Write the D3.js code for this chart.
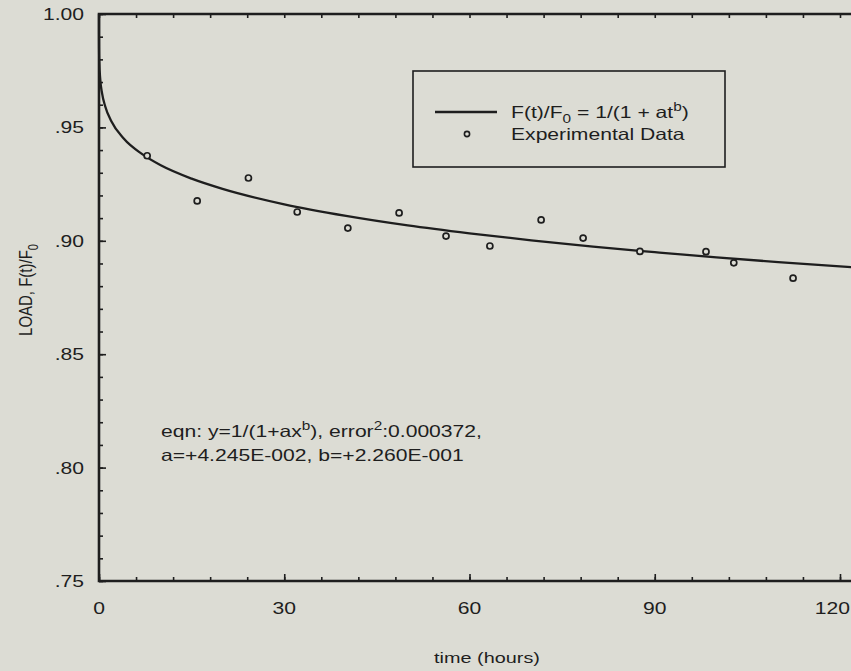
<!DOCTYPE html>
<html>
<head>
<meta charset="utf-8">
<script src="https://cdn.jsdelivr.net/npm/d3@7"></script>
<style>
  body { margin: 0; background: #dcdcd4; }
  svg { display: block; }
  text { font-family: "Liberation Sans", Arial, sans-serif; fill: #1e1e1e; }
</style>
</head>
<body>
<div id="chart"></div>
<script>
var expTime = [7.8, 15.9, 24.2, 32.1, 40.3, 48.6, 56.2, 63.3, 71.6, 78.4, 87.6, 98.3, 102.8, 112.4];
var expLoad = [0.9375, 0.9176, 0.9277, 0.9127, 0.9056, 0.9123, 0.9021, 0.8977, 0.9092, 0.9012, 0.8953, 0.8952, 0.8903, 0.8835];

// fitted curve F(t)/F0, sampled along the drawn line
var fitTime = [0, 0.001, 0.01, 0.05, 0.2, 0.5, 1, 2, 4, 7, 10, 15, 20, 30, 40, 50, 60, 70, 80, 90, 100, 110, 120, 124];
var fitLoad = [1.0, 0.9912, 0.9852, 0.9789, 0.9713, 0.9650, 0.9593, 0.9527, 0.9451, 0.9382, 0.9333, 0.9274, 0.9229, 0.9161, 0.9110, 0.9068, 0.9033, 0.9002, 0.8974, 0.8950, 0.8927, 0.8906, 0.8887, 0.8880];

var xTicks = [0, 30, 60, 90, 120];
var xTickLabels = ["0", "30", "60", "90", "120"];
var yTicks = [0.75, 0.80, 0.85, 0.90, 0.95, 1.00];
var yTickLabels = [".75", ".80", ".85", ".90", ".95", "1.00"];

var width = 851, height = 671;
var margin = {top: 14, left: 99, bottom: 90};
var sx = 1.28; // the scan is stretched sideways
var ink = "#1e1e1e";

var svg = d3.select("#chart").append("svg")
    .attr("width", width)
    .attr("height", height);

var x = d3.scaleLinear().domain([0, 120]).range([margin.left, 840]);
var y = d3.scaleLinear().domain([0.75, 1.0]).range([height - margin.bottom, margin.top]);
var x0 = margin.left, y0 = y(0.75), yTop = y(1.0), xRight = width + 10;

// tick marks, pointing into the plot
function ticks(axis, tr) {
  var g = svg.append("g").attr("transform", tr).call(axis);
  g.select(".domain").remove();
  g.selectAll("line").attr("stroke", ink).attr("stroke-width", 1.6);
  g.selectAll("text").remove();
}
ticks(d3.axisBottom(x).tickValues(d3.range(0, 127, 6)).tickSize(-4), "translate(0," + y0 + ")");
ticks(d3.axisBottom(x).tickValues(xTicks).tickSize(-7), "translate(0," + y0 + ")");
ticks(d3.axisTop(x).tickValues(d3.range(0, 127, 6)).tickSize(-4), "translate(0," + yTop + ")");
ticks(d3.axisLeft(y).tickValues(d3.range(0.75, 1.001, 0.01)).tickSize(-4), "translate(" + x0 + ",0)");
ticks(d3.axisLeft(y).tickValues(yTicks).tickSize(-7), "translate(" + x0 + ",0)");

// frame (right side is cut off in the original)
svg.append("path")
    .attr("d", "M" + xRight + "," + yTop + "H" + x0 + "V" + y0 + "H" + xRight)
    .attr("fill", "none")
    .attr("stroke", ink)
    .attr("stroke-width", 2.6);

// stretched text helper
function label(px, py, anchor, size) {
  return svg.append("g")
      .attr("transform", "translate(" + px + "," + py + ") scale(" + sx + ",1)")
    .append("text")
      .attr("text-anchor", anchor || "start")
      .attr("font-size", (size || 16.5) + "px");
}

yTicks.forEach(function(v, i) {
  label(84, y(v) + 6, "end").text(yTickLabels[i]);
});
xTicks.forEach(function(v, i) {
  // last label sits at the cut edge, keep it inside
  if (x(v) + 18 > width) label(width - 1, 614, "end").text(xTickLabels[i]);
  else label(x(v), 614, "middle").text(xTickLabels[i]);
});
label(487, 663, "middle", 15.5).text("time (hours)");

// y axis title
var yt = svg.append("g")
    .attr("transform", "translate(32,290) scale(" + sx + ",1) rotate(-90)")
  .append("text")
    .attr("text-anchor", "middle")
    .attr("font-size", "15px");
yt.append("tspan").text("LOAD, F(t)/F");
yt.append("tspan").attr("dy", 5).attr("font-size", "11px").text("0");

// fitted line
var pts = fitTime.map(function(t, i) { return [t, fitLoad[i]]; });
svg.append("path")
    .datum(pts)
    .attr("fill", "none")
    .attr("stroke", ink)
    .attr("stroke-width", 2.3)
    .attr("d", d3.line()
        .x(function(d) { return x(d[0]); })
        .y(function(d) { return y(d[1]); })
        .curve(d3.curveMonotoneX));

// data points
svg.selectAll("circle.pt")
    .data(expTime)
    .enter()
    .append("circle")
    .attr("class", "pt")
    .attr("cx", function(d) { return x(d); })
    .attr("cy", function(d, i) { return y(expLoad[i]); })
    .attr("r", 3)
    .attr("fill", "#dcdcd4")
    .attr("stroke", ink)
    .attr("stroke-width", 1.7);

// legend
svg.append("rect")
    .attr("x", 413).attr("y", 71)
    .attr("width", 312).attr("height", 96)
    .attr("fill", "none")
    .attr("stroke", ink)
    .attr("stroke-width", 1.6);
svg.append("line")
    .attr("x1", 435).attr("x2", 497)
    .attr("y1", 112).attr("y2", 112)
    .attr("stroke", ink)
    .attr("stroke-width", 2.3);
svg.append("circle")
    .attr("cx", 467).attr("cy", 134)
    .attr("r", 2.6)
    .attr("fill", "none")
    .attr("stroke", ink)
    .attr("stroke-width", 1.6);

var l1 = label(511, 118);
l1.append("tspan").text("F(t)/F");
l1.append("tspan").attr("dy", 5).attr("font-size", "12px").text("0");
l1.append("tspan").attr("dy", -5).text(" = 1/(1 + at");
l1.append("tspan").attr("dy", -7).attr("font-size", "12px").text("b");
l1.append("tspan").attr("dy", 7).text(")");
label(511, 140).text("Experimental Data");

// fit equation
var e1 = label(161, 437);
e1.append("tspan").text("eqn: y=1/(1+ax");
e1.append("tspan").attr("dy", -7).attr("font-size", "12px").text("b");
e1.append("tspan").attr("dy", 7).text("), error");
e1.append("tspan").attr("dy", -7).attr("font-size", "12px").text("2");
e1.append("tspan").attr("dy", 7).text(":0.000372,");
label(161, 461).text("a=+4.245E-002, b=+2.260E-001");
</script>
</body>
</html>
